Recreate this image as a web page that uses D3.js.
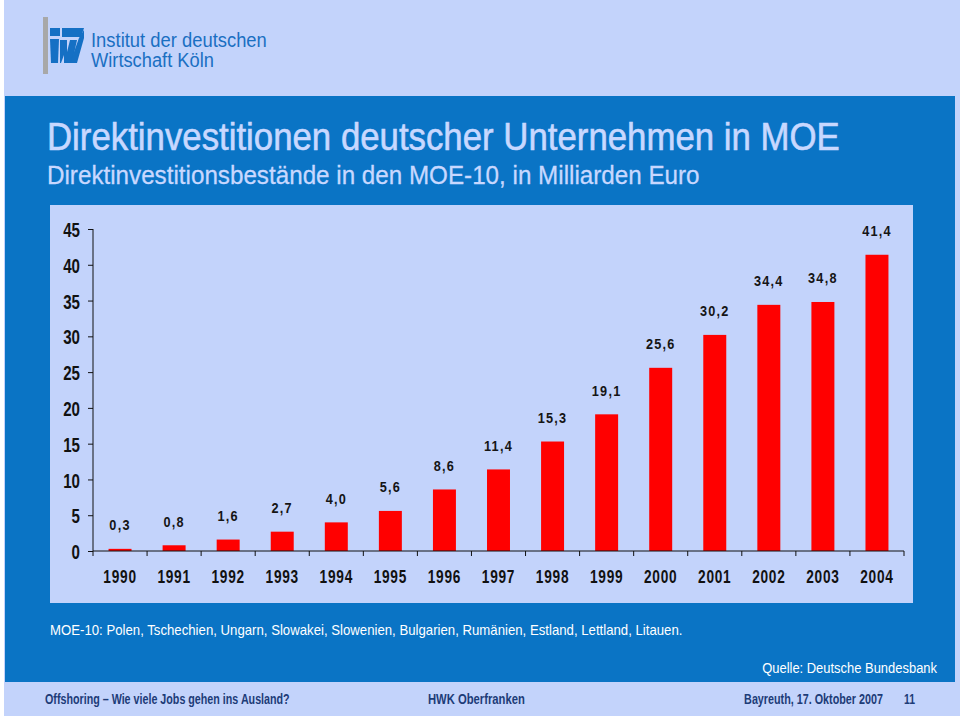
<!DOCTYPE html>
<html><head><meta charset="utf-8">
<script src="https://cdn.jsdelivr.net/npm/d3@7"></script>
<style>
html,body{margin:0;padding:0;background:#fff;}
svg{display:block;}
</style></head>
<body>
<svg id="c" width="960" height="716"></svg>
<script>
const years = ["1990","1991","1992","1993","1994","1995","1996","1997","1998","1999","2000","2001","2002","2003","2004"];
const values = [0.3,0.8,1.6,2.7,4.0,5.6,8.6,11.4,15.3,19.1,25.6,30.2,34.4,34.8,41.4];
const valueLabels = ["0,3","0,8","1,6","2,7","4,0","5,6","8,6","11,4","15,3","19,1","25,6","30,2","34,4","34,8","41,4"];
const yTicks = [0,5,10,15,20,25,30,35,40,45];

const SANS = "'Liberation Sans',Arial,sans-serif";
const LIGHT = "#c3d3fb";
const BLUE = "#0a74c5";
const svg = d3.select("#c");

// horizontal squeeze about the text's anchor point (keeps real bounding box)
function squeezeNode(n, s){
  const x = +n.getAttribute("x") || 0;
  n.setAttribute("transform", `translate(${x*(1-s)},0) scale(${s},1)`);
}
function fitWidth(sel, w){ sel.each(function(){ squeezeNode(this, w/this.getComputedTextLength()); }); return sel; }
function condense(sel, f){ sel.each(function(){ squeezeNode(this, f); }); return sel; }

// backgrounds
svg.append("rect").attr("x",4).attr("y",0).attr("width",956).attr("height",716).attr("fill",LIGHT);
svg.append("rect").attr("x",5).attr("y",96).attr("width",950).attr("height",586).attr("fill",BLUE);
svg.append("rect").attr("x",50).attr("y",205).attr("width",863).attr("height",398).attr("fill",LIGHT);

// logo
const logo = svg.append("g");
logo.append("rect").attr("x",43).attr("y",17).attr("width",5).attr("height",57).attr("fill","#a8a8a8");
const lb = "#1570c4";
logo.append("rect").attr("x",50).attr("y",28).attr("width",10).attr("height",8).attr("fill",lb);
logo.append("polygon").attr("points","62,28 84,28 81,37 62,37").attr("fill",lb);
logo.append("polygon").attr("points","50,39 59,39 58,63 51,63").attr("fill",lb);
logo.append("polygon").attr("points","60,40 67,40 67,52 70,40 77,40 72,63 64,63 64,55 61,63 60,63").attr("fill",lb);
logo.append("polygon").attr("points","79,38 84,30 84,38 77,63 70,63").attr("fill",lb);
fitWidth(logo.append("text").attr("x",91).attr("y",47).attr("font-family",SANS).attr("font-size",20).attr("fill","#1a6fc2").text("Institut der deutschen"),176);
fitWidth(logo.append("text").attr("x",91).attr("y",67).attr("font-family",SANS).attr("font-size",20).attr("fill","#1a6fc2").text("Wirtschaft Köln"),123);

// titles
fitWidth(svg.append("text").attr("x",47).attr("y",150).attr("font-family",SANS).attr("font-size",38)
  .attr("fill","#c8d8ff").attr("stroke","#c8d8ff").attr("stroke-width",0.6)
  .text("Direktinvestitionen deutscher Unternehmen in MOE"),793);
fitWidth(svg.append("text").attr("x",47).attr("y",184).attr("font-family",SANS).attr("font-size",26)
  .attr("fill","#c8d8ff").attr("stroke","#c8d8ff").attr("stroke-width",0.3)
  .text("Direktinvestitionsbestände in den MOE-10, in Milliarden Euro"),653);

// chart
const x = d3.scaleBand().domain(years).range([93,904]).paddingInner(0.575).paddingOuter(0.2875);
const y = d3.scaleLinear().domain([0,45]).range([551,229]);

const g = svg.append("g");
g.selectAll("rect.bar").data(values).join("rect").attr("class","bar")
  .attr("x",(d,i)=>x(years[i])).attr("y",d=>y(d))
  .attr("width",x.bandwidth()).attr("height",d=>y(0)-y(d)).attr("fill","#ff0000");

condense(g.selectAll("text.vl").data(values).join("text").attr("class","vl")
  .attr("x",(d,i)=>x(years[i])+x.bandwidth()/2).attr("y",d=>y(d)-18.5)
  .attr("text-anchor","middle").attr("font-family",SANS).attr("font-weight","bold")
  .attr("font-size",15.5).attr("fill","#151515").attr("letter-spacing","1.5")
  .text((d,i)=>valueLabels[i]), 0.82);

// y axis
const yAxis = g.append("g").attr("transform","translate(93,0)")
  .call(d3.axisLeft(y).tickValues(yTicks).tickSize(5).tickPadding(8).tickFormat(d3.format("d")));
yAxis.select(".domain").attr("stroke","#111").attr("d","M0,229V551");
yAxis.selectAll(".tick line").attr("stroke","#111");
condense(yAxis.selectAll("text").attr("font-family",SANS).attr("font-weight","bold").attr("font-size",21).attr("fill","#111").attr("dy","0.36em"), 0.72);

// x axis
const bounds = d3.range(years.length+1).map(i=>93 + i*(904-93)/years.length);
g.append("line").attr("x1",93).attr("x2",904).attr("y1",551).attr("y2",551).attr("stroke","#111");
g.selectAll("line.xt").data(bounds).join("line").attr("class","xt")
  .attr("x1",d=>d).attr("x2",d=>d).attr("y1",551).attr("y2",556).attr("stroke","#111");
const xAxis = g.append("g").attr("transform","translate(0,551)")
  .call(d3.axisBottom(x).tickSize(0).tickPadding(22));
xAxis.select(".domain").remove();
condense(xAxis.selectAll("text").attr("font-family",SANS).attr("font-weight","bold").attr("font-size",18.5).attr("fill","#111").attr("dy","0.55em").attr("letter-spacing","1"), 0.74);

// notes
fitWidth(svg.append("text").attr("x",50).attr("y",635).attr("font-family",SANS).attr("font-size",14).attr("fill","#fff")
  .text("MOE-10: Polen, Tschechien, Ungarn, Slowakei, Slowenien, Bulgarien, Rumänien, Estland, Lettland, Litauen."),633);
fitWidth(svg.append("text").attr("x",937).attr("y",673).attr("text-anchor","end").attr("font-family",SANS).attr("font-size",15).attr("fill","#fff")
  .text("Quelle: Deutsche Bundesbank"),175);

// footer
const FC = "#1d3c78";
const ft = (x,t,w,anchor)=>fitWidth(svg.append("text").attr("x",x).attr("y",704).attr("text-anchor",anchor||"start")
  .attr("font-family",SANS).attr("font-weight","bold").attr("font-size",14).attr("fill",FC).text(t), w);
ft(45,"Offshoring – Wie viele Jobs gehen ins Ausland?",245);
ft(428,"HWK Oberfranken",97);
ft(883,"Bayreuth, 17. Oktober 2007",139,"end");
ft(904,"11",11);
</script>
</body></html>
